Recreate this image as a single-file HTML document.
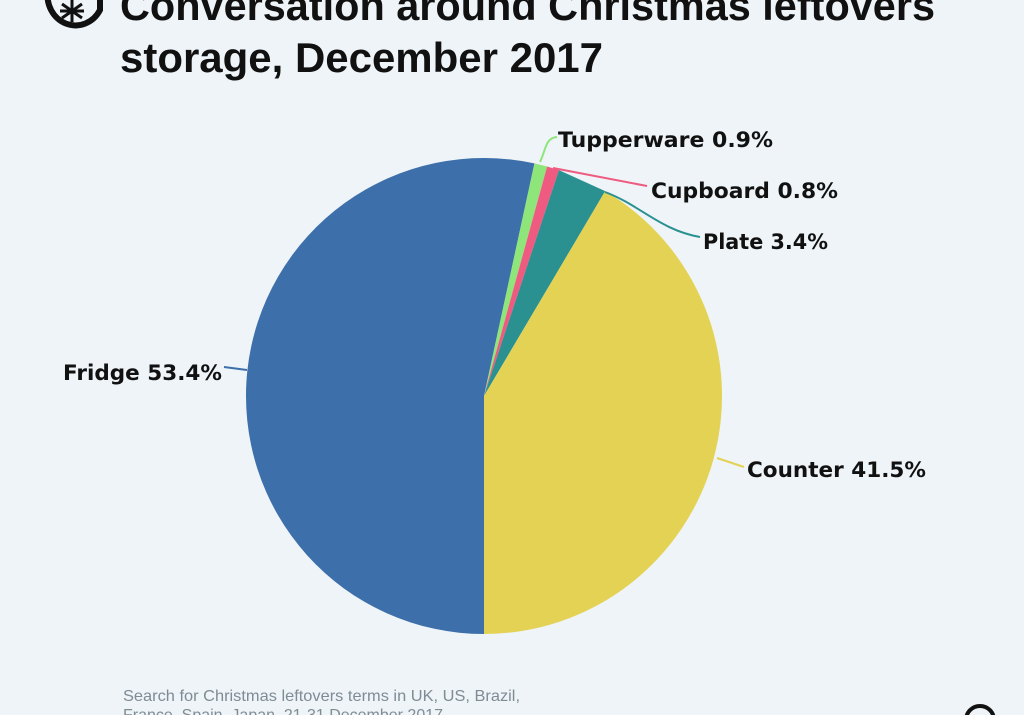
<!DOCTYPE html>
<html><head><meta charset="utf-8"><style>
html,body{margin:0;padding:0;background:#eef4f8;}
svg{display:block;}
</style></head><body>
<svg width="1024" height="715" viewBox="0 0 1024 715" xmlns="http://www.w3.org/2000/svg">
<rect width="1024" height="715" fill="#eef4f8"/>
<g fill="none" stroke="#111" stroke-width="6">
<path d="M48 -10 A28 30 0 0 0 100 10 L100 -10"/>
</g>
<g stroke="#111" stroke-width="3">
<line x1="72" y1="0" x2="72" y2="22"/><line x1="62" y1="4" x2="82" y2="18"/><line x1="82" y1="4" x2="62" y2="18"/><line x1="60" y1="11" x2="84" y2="11"/>
</g>
<g font-family="'Liberation Sans',sans-serif" font-weight="bold" fill="#111" font-size="42">
<text x="120" y="20" textLength="815" lengthAdjust="spacingAndGlyphs">Conversation around Christmas leftovers</text>
<text x="120" y="72" textLength="483" lengthAdjust="spacingAndGlyphs">storage, December 2017</text>
</g>
<g stroke="none">
<path d="M484 396 L484 634 A238 238 0 1 1 534.45 163.41 Z" fill="#3d6faa"/>
<path d="M484 396 L534.45 163.41 L547.13 166.53 Z" fill="#8ee57a"/>
<path d="M484 396 L547.13 166.53 L558.95 170.12 Z" fill="#ef5b80"/>
<path d="M484 396 L558.95 170.12 L605.18 191.16 Z" fill="#2a9090"/>
<path d="M484 396 L605.18 191.16 A238 238 0 0 1 484 634 Z" fill="#e3d254"/>
</g>
<g fill="none" stroke-width="2">
<path d="M247 370 L224 367" stroke="#3d6faa"/>
<path d="M717 458 L744 467" stroke="#e3d254"/>
<path d="M540 162 C546 150 545 138 557 137" stroke="#8ee57a"/>
<path d="M553 168 L647 186" stroke="#ef5b80"/>
<path d="M605 192 C640 205 660 230 700 237" stroke="#2a9090"/>
</g>
<g font-family="'DejaVu Sans',sans-serif" font-weight="bold" fill="#111" font-size="21.5">
<text x="63" y="380" textLength="159" lengthAdjust="spacingAndGlyphs">Fridge 53.4%</text>
<text x="747" y="477" textLength="179" lengthAdjust="spacingAndGlyphs">Counter 41.5%</text>
<text x="558" y="147" textLength="215" lengthAdjust="spacingAndGlyphs">Tupperware 0.9%</text>
<text x="651" y="198" textLength="187" lengthAdjust="spacingAndGlyphs">Cupboard 0.8%</text>
<text x="703" y="249" textLength="125" lengthAdjust="spacingAndGlyphs">Plate 3.4%</text>
</g>
<g font-family="'Liberation Sans',sans-serif" fill="#7f8c93" font-size="16">
<text x="123" y="701" textLength="397" lengthAdjust="spacingAndGlyphs">Search for Christmas leftovers terms in UK, US, Brazil,</text>
<text x="123" y="720" textLength="320" lengthAdjust="spacingAndGlyphs">France, Spain, Japan, 21-31 December 2017</text>
</g>
<circle cx="980" cy="720" r="14" fill="none" stroke="#111" stroke-width="4"/>
</svg>
</body></html>
